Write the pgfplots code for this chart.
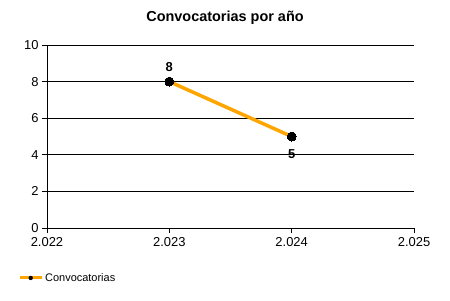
\documentclass[border=0pt]{standalone}
\usepackage{pgfplots}
\pgfplotsset{compat=1.18}
\usepackage{fontspec}
\setmainfont{Liberation Sans}
\definecolor{lineorange}{RGB}{255,165,0}
\begin{document}
\begin{tikzpicture}[x=1bp,y=1bp]
\path[use as bounding box] (0,0) rectangle (450,300);
\node[font=\fontsize{14.5}{17}\selectfont\bfseries] at (225,282) {Convocatorias por año};
\begin{axis}[
  at={(47bp,72bp)}, anchor=south west,
  scale only axis, width=367bp, height=183bp,
  xmin=2022, xmax=2025, ymin=0, ymax=10,
  axis x line*=bottom, axis y line*=left,
  axis line style={-, black, line width=0.9pt},
  xtick={2022,2023,2024,2025},
  xticklabels={2.022,2.023,2.024,2.025},
  ytick={0,2,4,6,8,10},
  tick align=outside, major tick length=5bp,
  tick style={black, line width=0.9pt},
  ymajorgrids, grid style={black, line width=0.9pt},
  tick label style={font=\fontsize{13}{15}\selectfont},
  xticklabel style={yshift=-1bp},
  /pgf/number format/assume math mode=true,
  legend style={at={(-0.079,-0.273)}, anchor=west, draw=none, fill=none,
    font=\fontsize{11}{13}\selectfont, inner sep=0pt,
    legend cell align=left},
  legend image code/.code={
    \draw[lineorange, line width=3bp] (0bp,0bp) -- (22bp,0bp);
    \path[fill=black, draw=none] (11bp,0bp) circle (2.2bp);
  },
]
\addplot[lineorange, line width=3.5bp, mark=*, mark size=4.5bp,
  mark options={black, fill=black, line width=0pt}]
  coordinates {(2023,8) (2024,5)};
\addlegendentry{Convocatorias}
\node[font=\fontsize{13}{15}\selectfont\bfseries] at (axis cs:2023,8) [yshift=15bp] {8};
\node[font=\fontsize{13}{15}\selectfont\bfseries] at (axis cs:2024,5) [yshift=-18bp] {5};
\end{axis}
\end{tikzpicture}
\end{document}
